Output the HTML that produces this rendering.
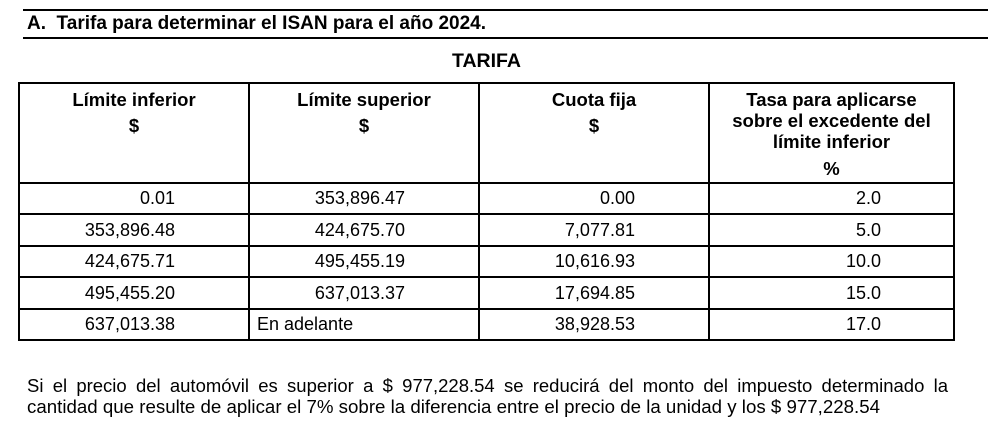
<!DOCTYPE html>
<html><head><meta charset="utf-8"><style>
body{margin:0;width:988px;height:438px;background:#fff;position:relative;overflow:hidden;font-family:"Liberation Sans",Arial,sans-serif;color:#000}
.a{position:absolute;white-space:nowrap}
.b{font-weight:bold}
.h{position:absolute;background:#000}
.t{font-size:18px;line-height:20px}
.hd{font-size:18.5px;line-height:21px}
</style></head><body>
<div class="h" style="left:23px;top:9px;width:965px;height:2px"></div>
<div class="h" style="left:23px;top:37px;width:965px;height:2px"></div>
<div class="a b" style="left:27px;top:13px;font-size:19px;line-height:22px">A.&nbsp; Tarifa para determinar el ISAN para el año 2024.</div>
<div class="a b" style="left:452px;top:50px;font-size:19.5px;line-height:22px">TARIFA</div>

<div class="h" style="left:18px;top:82px;width:937px;height:2px"></div>
<div class="h" style="left:18px;top:182px;width:937px;height:2px"></div>
<div class="h" style="left:18px;top:213px;width:937px;height:2px"></div>
<div class="h" style="left:18px;top:245px;width:937px;height:2px"></div>
<div class="h" style="left:18px;top:276px;width:937px;height:2px"></div>
<div class="h" style="left:18px;top:308px;width:937px;height:2px"></div>
<div class="h" style="left:18px;top:339px;width:937px;height:2px"></div>
<div class="h" style="left:18px;top:82px;width:2px;height:259px"></div>
<div class="h" style="left:248px;top:82px;width:2px;height:259px"></div>
<div class="h" style="left:478px;top:82px;width:2px;height:259px"></div>
<div class="h" style="left:708px;top:82px;width:2px;height:259px"></div>
<div class="h" style="left:953px;top:82px;width:2px;height:259px"></div>

<div class="a b hd" style="left:19px;width:230px;top:89px;text-align:center">Límite inferior<br><span style="display:inline-block;margin-top:5px">$</span></div>
<div class="a b hd" style="left:249px;width:230px;top:89px;text-align:center">Límite superior<br><span style="display:inline-block;margin-top:5px">$</span></div>
<div class="a b hd" style="left:479px;width:230px;top:89px;text-align:center">Cuota fija<br><span style="display:inline-block;margin-top:5px">$</span></div>
<div class="a b hd" style="left:709px;width:245px;top:89px;text-align:center">Tasa para aplicarse<br>sobre el excedente del<br>límite inferior<br><span style="display:inline-block;margin-top:6px">%</span></div>

<div class="a t" style="left:19px;width:156px;top:188px;text-align:right">0.01</div>
<div class="a t" style="left:19px;width:156px;top:220px;text-align:right">353,896.48</div>
<div class="a t" style="left:19px;width:156px;top:251px;text-align:right">424,675.71</div>
<div class="a t" style="left:19px;width:156px;top:283px;text-align:right">495,455.20</div>
<div class="a t" style="left:19px;width:156px;top:314px;text-align:right">637,013.38</div>

<div class="a t" style="left:249px;width:156px;top:188px;text-align:right">353,896.47</div>
<div class="a t" style="left:249px;width:156px;top:220px;text-align:right">424,675.70</div>
<div class="a t" style="left:249px;width:156px;top:251px;text-align:right">495,455.19</div>
<div class="a t" style="left:249px;width:156px;top:283px;text-align:right">637,013.37</div>
<div class="a t" style="left:257px;top:314px">En adelante</div>

<div class="a t" style="left:479px;width:156px;top:188px;text-align:right">0.00</div>
<div class="a t" style="left:479px;width:156px;top:220px;text-align:right">7,077.81</div>
<div class="a t" style="left:479px;width:156px;top:251px;text-align:right">10,616.93</div>
<div class="a t" style="left:479px;width:156px;top:283px;text-align:right">17,694.85</div>
<div class="a t" style="left:479px;width:156px;top:314px;text-align:right">38,928.53</div>

<div class="a t" style="left:709px;width:172px;top:188px;text-align:right">2.0</div>
<div class="a t" style="left:709px;width:172px;top:220px;text-align:right">5.0</div>
<div class="a t" style="left:709px;width:172px;top:251px;text-align:right">10.0</div>
<div class="a t" style="left:709px;width:172px;top:283px;text-align:right">15.0</div>
<div class="a t" style="left:709px;width:172px;top:314px;text-align:right">17.0</div>

<svg style="position:absolute;left:0;top:0" width="988" height="438">
<text x="27" y="392" font-family="Liberation Sans, Arial, sans-serif" font-size="18" textLength="921" lengthAdjust="spacingAndGlyphs" word-spacing="4">Si el precio del automóvil es superior a $ 977,228.54 se reducirá del monto del impuesto determinado la</text>
<text x="27" y="413" font-family="Liberation Sans, Arial, sans-serif" font-size="18" textLength="853" lengthAdjust="spacingAndGlyphs">cantidad que resulte de aplicar el 7% sobre la diferencia entre el precio de la unidad y los $ 977,228.54</text>
</svg>
</body></html>
